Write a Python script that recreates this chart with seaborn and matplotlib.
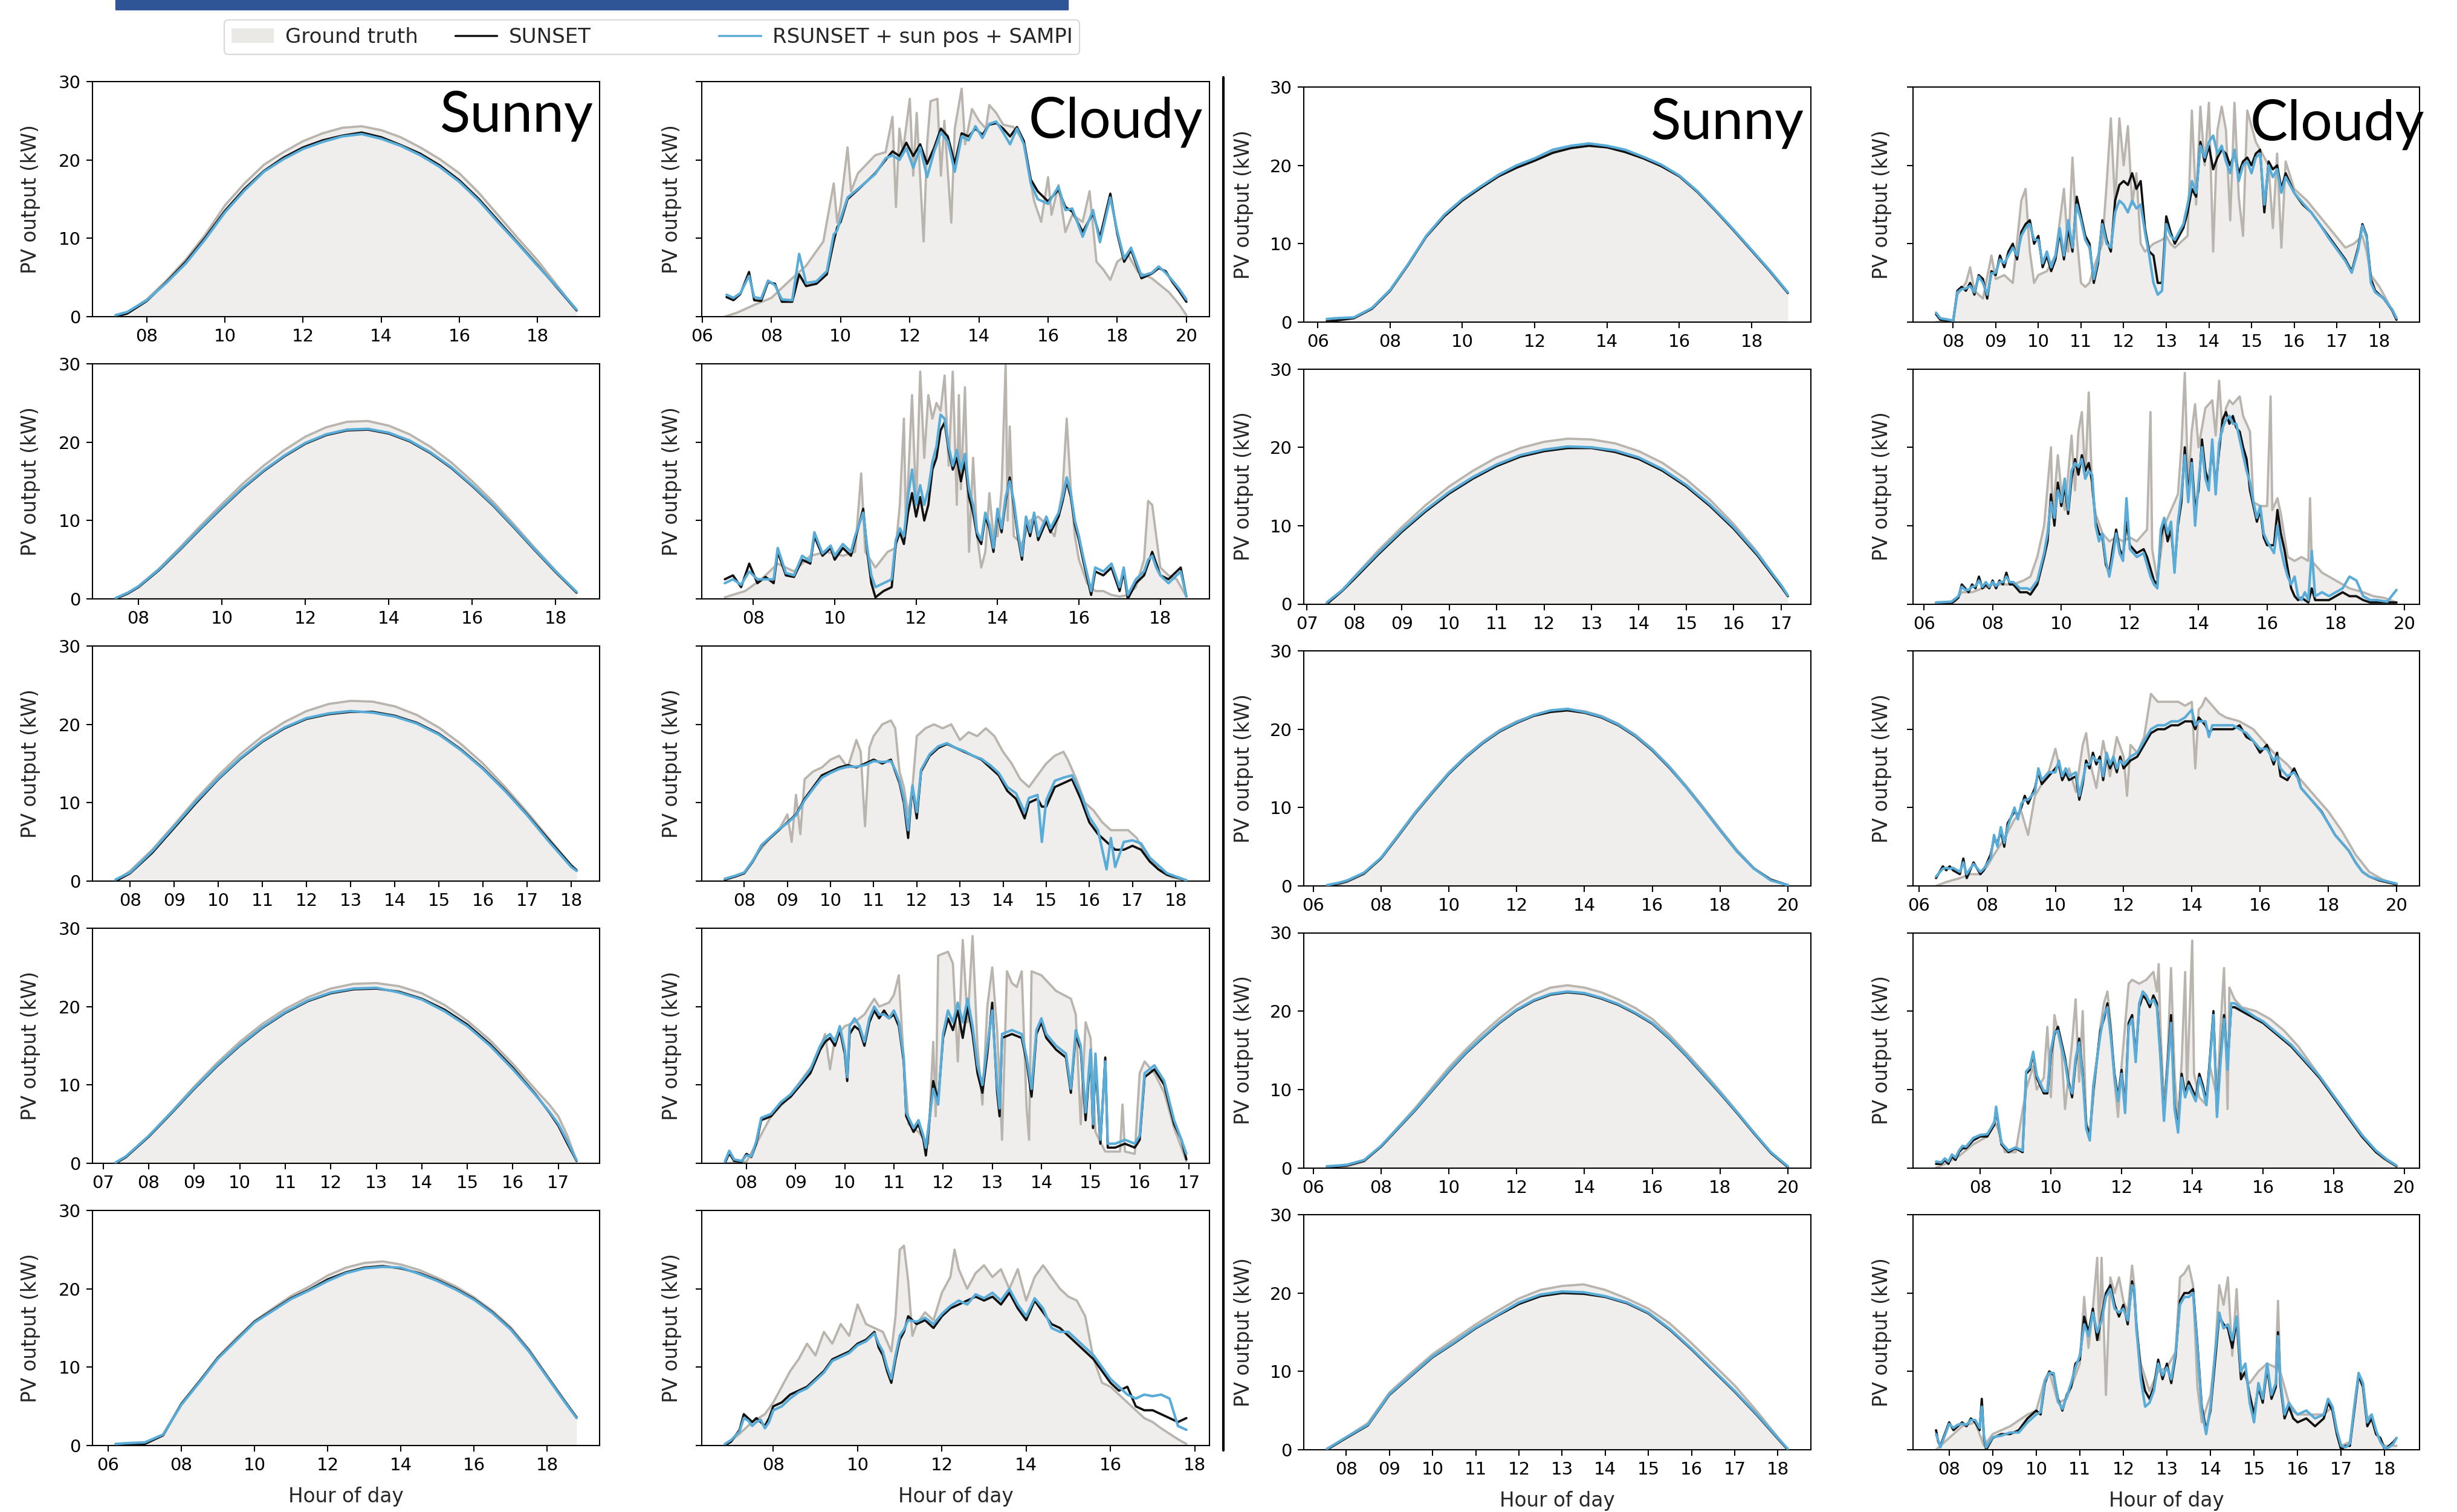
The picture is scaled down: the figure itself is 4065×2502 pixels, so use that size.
import numpy as np
import matplotlib
matplotlib.use("Agg")
import matplotlib.pyplot as plt
import seaborn as sns
from matplotlib.lines import Line2D
from matplotlib.patches import Patch, Rectangle
from matplotlib.ticker import MultipleLocator, FuncFormatter

# PV output (kW) per day, hours as fractional hour of day.
# Sunny days share one time axis for the three series.

# ---------------- left block, sunny ----------------
l1_hours = [7.2, 7.5, 8.0, 8.5, 9.0, 9.5, 10.0, 10.5, 11.0, 11.5, 12.0, 12.5, 13.0, 13.5, 14.0, 14.5, 15.0, 15.5, 16.0, 16.5, 17.0, 17.5, 18.0, 18.5, 19.0]
l1_truth = [0.0, 0.5, 2.2, 4.6, 7.3, 10.5, 14.2, 17.0, 19.4, 21.0, 22.4, 23.4, 24.1, 24.3, 23.8, 22.9, 21.6, 20.1, 18.3, 15.8, 12.9, 10.0, 7.2, 4.0, 0.8]
l1_sunset = [0.0, 0.4, 2.0, 4.4, 7.0, 10.1, 13.5, 16.3, 18.6, 20.3, 21.6, 22.5, 23.1, 23.5, 22.9, 21.9, 20.8, 19.3, 17.4, 15.0, 12.2, 9.4, 6.6, 3.7, 0.8]
l1_rsunset = [0.2, 0.6, 2.1, 4.3, 6.8, 9.9, 13.3, 16.1, 18.5, 20.1, 21.4, 22.3, 23.0, 23.3, 22.7, 21.8, 20.6, 19.1, 17.2, 14.8, 12.0, 9.3, 6.5, 3.8, 0.9]

l2_hours = [7.45, 7.75, 8.0, 8.5, 9.0, 9.5, 10.0, 10.5, 11.0, 11.5, 12.0, 12.5, 13.0, 13.5, 14.0, 14.5, 15.0, 15.5, 16.0, 16.5, 17.0, 17.5, 18.0, 18.5]
l2_truth = [0.0, 0.8, 1.6, 3.9, 6.6, 9.4, 12.1, 14.7, 17.0, 19.0, 20.7, 21.9, 22.6, 22.7, 22.1, 21.0, 19.4, 17.4, 15.0, 12.4, 9.5, 6.5, 3.6, 0.8]
l2_sunset = [0.0, 0.7, 1.5, 3.7, 6.3, 9.0, 11.6, 14.1, 16.3, 18.2, 19.8, 20.9, 21.5, 21.6, 21.1, 20.1, 18.6, 16.7, 14.4, 11.9, 9.1, 6.2, 3.4, 0.8]
l2_rsunset = [0.1, 0.8, 1.6, 3.8, 6.4, 9.1, 11.7, 14.2, 16.4, 18.3, 19.9, 21.0, 21.6, 21.7, 21.2, 20.2, 18.7, 16.8, 14.5, 12.0, 9.2, 6.3, 3.5, 0.9]

l3_hours = [7.67, 8.0, 8.5, 9.0, 9.5, 10.0, 10.5, 11.0, 11.5, 12.0, 12.5, 13.0, 13.5, 14.0, 14.5, 15.0, 15.5, 16.0, 16.5, 17.0, 17.5, 18.0, 18.12]
l3_truth = [0.0, 1.3, 4.0, 7.2, 10.5, 13.5, 16.2, 18.5, 20.3, 21.7, 22.6, 23.0, 22.9, 22.3, 21.2, 19.6, 17.5, 15.0, 12.0, 8.8, 5.4, 2.0, 1.4]
l3_sunset = [0.0, 1.0, 3.6, 6.8, 10.0, 13.0, 15.6, 17.8, 19.5, 20.7, 21.3, 21.6, 21.6, 21.1, 20.2, 18.8, 16.8, 14.4, 11.6, 8.5, 5.2, 2.0, 1.4]
l3_rsunset = [0.2, 1.1, 3.8, 7.0, 10.2, 13.1, 15.7, 17.9, 19.6, 20.8, 21.4, 21.7, 21.5, 21.0, 20.1, 18.7, 16.7, 14.3, 11.5, 8.4, 5.0, 1.8, 1.3]

l4_hours = [7.27, 7.5, 8.0, 8.5, 9.0, 9.5, 10.0, 10.5, 11.0, 11.5, 12.0, 12.5, 13.0, 13.5, 14.0, 14.5, 15.0, 15.5, 16.0, 16.5, 16.8, 17.0, 17.2, 17.4]
l4_truth = [0.0, 0.8, 3.5, 6.6, 9.8, 12.8, 15.5, 17.8, 19.7, 21.2, 22.3, 22.9, 23.0, 22.6, 21.7, 20.2, 18.2, 15.7, 12.7, 9.4, 7.5, 6.0, 3.5, 0.3]
l4_sunset = [0.0, 0.8, 3.4, 6.4, 9.5, 12.4, 15.0, 17.3, 19.2, 20.7, 21.7, 22.2, 22.3, 21.9, 21.0, 19.6, 17.7, 15.2, 12.2, 8.8, 6.5, 4.8, 2.5, 0.3]
l4_rsunset = [0.1, 0.9, 3.5, 6.5, 9.6, 12.5, 15.1, 17.4, 19.3, 20.8, 21.8, 22.3, 22.4, 21.8, 20.9, 19.4, 17.5, 15.0, 12.0, 8.7, 6.6, 5.0, 2.8, 0.4]

l5_hours = [6.2, 6.5, 7.0, 7.5, 8.0, 8.5, 9.0, 9.5, 10.0, 10.5, 11.0, 11.5, 12.0, 12.5, 13.0, 13.5, 14.0, 14.5, 15.0, 15.5, 16.0, 16.5, 17.0, 17.5, 18.0, 18.5, 18.8]
l5_truth = [0.2, 0.2, 0.3, 1.4, 5.4, 8.3, 11.3, 13.7, 15.9, 17.5, 19.1, 20.3, 21.7, 22.7, 23.3, 23.5, 23.1, 22.4, 21.4, 20.3, 18.9, 17.2, 15.1, 12.3, 8.9, 5.6, 3.6]
l5_sunset = [0.0, 0.1, 0.2, 1.3, 5.3, 8.2, 11.2, 13.5, 15.8, 17.3, 18.8, 19.9, 21.2, 22.1, 22.7, 22.9, 22.6, 22.0, 21.1, 20.0, 18.7, 17.0, 14.9, 12.1, 8.8, 5.5, 3.6]
l5_rsunset = [0.2, 0.3, 0.4, 1.4, 5.2, 8.1, 11.1, 13.4, 15.7, 17.2, 18.7, 19.8, 21.0, 22.0, 22.6, 22.8, 22.7, 21.9, 21.0, 19.9, 18.6, 16.9, 14.8, 12.0, 8.7, 5.4, 3.5]

# ---------------- left block, cloudy ----------------
cl1_truth_hours = [6.65, 7.0, 7.5, 8.0, 8.5, 9.0, 9.5, 9.8, 9.9, 10.0,
                   10.2, 10.3, 10.5, 11.0, 11.3, 11.5, 11.6, 11.7, 11.8, 12.0,
                   12.1, 12.2, 12.4, 12.5, 12.6, 12.8, 12.9, 13.0, 13.2, 13.3,
                   13.5, 13.6, 13.8, 14.0, 14.2, 14.3, 14.5, 14.7, 15.0, 15.3,
                   15.5, 15.6, 15.8, 16.0, 16.1, 16.3, 16.5, 16.7, 17.0, 17.2,
                   17.4, 17.6, 17.8, 18.0, 18.3, 18.6, 19.0, 19.5, 19.8, 20.0]
cl1_truth = [0.0, 0.5, 1.5, 2.4, 4.5, 6.5, 9.6, 17.0, 12.0, 14.2,
             21.6, 16.0, 18.3, 20.6, 21.0, 25.5, 14.0, 24.0, 21.0, 27.8,
             18.0, 26.0, 9.6, 22.0, 27.5, 27.8, 18.0, 25.0, 12.0, 24.0,
             29.1, 22.0, 26.5, 25.0, 24.0, 27.0, 26.0, 24.5, 24.2, 22.4,
             17.0, 14.7, 12.1, 17.8, 13.0, 16.8, 10.8, 13.0, 12.1, 16.0,
             7.0, 6.0, 4.7, 7.0, 8.0, 5.7, 4.9, 3.1, 1.5, 0.2]
cl1_hours = [6.7, 6.9, 7.1, 7.35, 7.5, 7.7, 7.9, 8.1, 8.3, 8.6,
             8.8, 9.0, 9.3, 9.6, 9.8, 9.9, 10.0, 10.2, 10.5, 11.0,
             11.3, 11.5, 11.7, 11.9, 12.1, 12.3, 12.5, 12.7, 12.9, 13.1,
             13.3, 13.5, 13.7, 13.9, 14.1, 14.3, 14.5, 14.7, 14.9, 15.1,
             15.3, 15.5, 15.7, 16.0, 16.3, 16.5, 16.7, 17.0, 17.3, 17.5,
             17.8, 18.0, 18.2, 18.4, 18.7, 19.0, 19.2, 19.4, 19.6, 19.8,
             20.0]
cl1_sunset = [2.5, 2.1, 2.9, 5.7, 2.1, 2.0, 4.4, 4.2, 1.9, 1.9,
              5.4, 3.9, 4.2, 5.4, 9.6, 11.4, 12.1, 15.0, 16.2, 18.3,
              20.0, 21.1, 20.5, 22.2, 20.5, 22.0, 19.5, 21.5, 24.0, 23.0,
              19.5, 23.4, 23.0, 24.0, 23.2, 24.5, 24.7, 24.0, 23.0, 24.2,
              22.4, 17.5, 16.0, 14.7, 16.2, 14.0, 13.4, 10.8, 13.2, 10.1,
              15.7, 10.6, 7.0, 8.5, 4.9, 5.5, 6.2, 5.8, 4.4, 3.2,
              1.9]
cl1_rsunset = [2.8, 2.4, 3.0, 5.2, 2.5, 2.3, 4.6, 4.0, 2.2, 2.1,
               8.0, 4.3, 4.5, 5.8, 10.5, 11.0, 12.5, 15.2, 16.3, 18.2,
               20.2, 20.6, 20.0, 21.5, 19.0, 21.6, 17.8, 21.0, 23.5, 22.4,
               18.5, 23.0, 22.5, 24.3, 22.8, 24.6, 24.9, 23.5, 22.0, 24.0,
               22.0, 17.0, 15.0, 14.4, 16.6, 13.6, 13.8, 10.2, 13.6, 9.5,
               15.2, 10.9, 7.4, 8.8, 5.2, 5.6, 6.4, 5.6, 4.6, 3.5,
               2.2]

cl2_truth_hours = [7.3, 7.8, 8.2, 8.6, 9.0, 9.4, 9.8, 10.2, 10.5, 10.65,
                   10.75, 11.0, 11.3, 11.5, 11.6, 11.7, 11.75, 11.9, 12.0, 12.1,
                   12.2, 12.3, 12.4, 12.5, 12.6, 12.7, 12.8, 12.9, 13.0, 13.05,
                   13.1, 13.2, 13.3, 13.4, 13.5, 13.6, 13.7, 13.8, 13.9, 14.0,
                   14.1, 14.2, 14.25, 14.3, 14.4, 14.6, 14.8, 15.0, 15.2, 15.4,
                   15.6, 15.7, 15.8, 15.9, 16.0, 16.2, 16.4, 16.6, 16.8, 17.0,
                   17.2, 17.4, 17.6, 17.7, 17.8, 17.9, 18.0, 18.2, 18.4, 18.64]
cl2_truth = [0.2, 1.0, 2.5, 4.5, 3.5, 5.5, 6.0, 5.5, 6.0, 16.0,
             6.0, 4.0, 6.0, 6.5, 12.0, 23.0, 9.0, 26.0, 12.0, 29.0,
             18.0, 26.0, 23.0, 25.0, 24.0, 28.5, 17.0, 29.0, 12.0, 26.0,
             14.0, 27.0, 6.0, 18.0, 8.0, 4.0, 6.0, 13.5, 8.0, 8.0,
             14.0, 30.0, 10.0, 22.0, 8.0, 7.0, 10.0, 10.5, 9.5, 8.0,
             14.0, 23.0, 14.0, 8.0, 5.0, 2.0, 1.0, 1.0, 0.5, 0.3,
             0.5, 1.5, 5.0, 12.5, 12.0, 8.0, 4.0, 3.0, 2.5, 0.3]
cl2_hours = [7.3, 7.5, 7.7, 7.9, 8.1, 8.3, 8.5, 8.6, 8.8, 9.0,
             9.2, 9.4, 9.5, 9.7, 9.9, 10.0, 10.2, 10.4, 10.5, 10.7,
             10.8, 10.9, 11.0, 11.2, 11.4, 11.5, 11.6, 11.7, 11.8, 11.9,
             12.0, 12.1, 12.2, 12.3, 12.4, 12.5, 12.6, 12.7, 12.8, 12.9,
             13.0, 13.1, 13.2, 13.3, 13.4, 13.5, 13.6, 13.7, 13.8, 13.9,
             14.0, 14.1, 14.2, 14.3, 14.4, 14.5, 14.6, 14.7, 14.8, 14.9,
             15.0, 15.2, 15.3, 15.5, 15.6, 15.7, 15.8, 15.9, 16.0, 16.1,
             16.3, 16.4, 16.6, 16.8, 17.0, 17.1, 17.2, 17.4, 17.6, 17.7,
             17.8, 17.9, 18.0, 18.2, 18.4, 18.5, 18.64]
cl2_sunset = [2.5, 3.0, 1.5, 4.5, 2.0, 2.8, 2.0, 6.0, 3.0, 2.8,
              5.0, 4.5, 8.0, 5.5, 6.5, 5.0, 6.5, 5.5, 7.5, 11.5,
              6.0, 2.0, 0.2, 1.0, 1.5, 7.0, 8.5, 7.0, 11.0, 13.5,
              10.5, 13.0, 10.0, 12.0, 16.5, 18.0, 21.5, 22.5, 19.0, 16.5,
              18.0, 15.0, 17.5, 13.0, 11.0, 8.0, 7.0, 10.5, 9.0, 6.0,
              11.0, 8.5, 12.5, 15.5, 12.0, 8.0, 5.0, 10.0, 8.0, 10.5,
              7.5, 10.0, 8.5, 10.5, 12.5, 15.0, 13.0, 9.5, 7.5, 5.0,
              0.5, 3.5, 3.0, 4.0, 1.0, 3.5, 0.0, 2.0, 3.0, 4.5,
              6.0, 4.5, 3.0, 2.5, 3.5, 4.0, 0.3]
cl2_rsunset = [2.0, 2.5, 1.8, 3.5, 2.5, 2.5, 2.5, 6.5, 3.3, 3.0,
               5.5, 4.8, 8.5, 5.8, 6.8, 5.5, 7.0, 6.0, 8.0, 11.0,
               6.5, 3.0, 1.5, 2.0, 2.5, 7.5, 9.0, 8.0, 13.0, 16.5,
               12.0, 14.5, 12.0, 14.0, 17.5, 19.5, 23.5, 23.0, 19.5, 17.0,
               19.0, 16.5, 18.5, 14.0, 12.0, 8.5, 7.5, 11.0, 9.5, 6.5,
               11.5, 9.0, 13.0, 15.0, 12.5, 8.5, 5.5, 10.5, 8.5, 11.0,
               8.0, 10.5, 9.0, 11.0, 13.0, 15.5, 13.5, 10.0, 8.0, 5.5,
               1.0, 4.0, 3.5, 4.5, 1.5, 4.0, 0.5, 2.5, 3.5, 5.0,
               5.5, 4.0, 3.0, 2.0, 3.0, 3.5, 0.3]

cl3_truth_hours = [7.55, 8.0, 8.3, 8.6, 8.8, 9.0, 9.1, 9.2, 9.3, 9.4,
                   9.6, 9.8, 10.0, 10.2, 10.4, 10.6, 10.7, 10.8, 10.9, 11.0,
                   11.2, 11.4, 11.5, 11.6, 11.7, 11.8, 11.9, 12.0, 12.2, 12.4,
                   12.6, 12.8, 13.0, 13.2, 13.4, 13.6, 13.8, 14.0, 14.2, 14.4,
                   14.6, 14.8, 15.0, 15.2, 15.4, 15.5, 15.7, 15.9, 16.1, 16.3,
                   16.5, 16.7, 16.9, 17.1, 17.3, 17.6, 17.9, 18.25]
cl3_truth = [0.1, 1.0, 3.5, 5.5, 6.5, 8.5, 5.0, 11.0, 6.0, 13.0,
             14.0, 14.5, 15.5, 16.0, 14.5, 18.0, 16.5, 7.0, 17.0, 18.5,
             20.0, 20.5, 19.5, 14.0, 12.0, 8.5, 12.0, 18.5, 19.5, 20.0,
             19.5, 20.0, 18.0, 19.0, 18.5, 19.5, 18.5, 16.5, 15.0, 13.0,
             12.0, 13.5, 15.0, 16.0, 16.5, 15.5, 13.0, 10.0, 9.0, 7.5,
             6.5, 6.5, 6.5, 5.5, 3.5, 1.5, 0.5, 0.1]
cl3_hours = [7.55, 7.8, 8.0, 8.2, 8.4, 8.6, 8.8, 9.0, 9.2, 9.4,
             9.6, 9.8, 10.0, 10.2, 10.4, 10.6, 10.8, 11.0, 11.2, 11.4,
             11.5, 11.6, 11.7, 11.8, 11.85, 11.9, 12.0, 12.1, 12.3, 12.5,
             12.7, 12.9, 13.1, 13.3, 13.5, 13.7, 13.9, 14.1, 14.3, 14.5,
             14.6, 14.8, 14.9, 15.0, 15.2, 15.4, 15.6, 15.8, 16.0, 16.2,
             16.4, 16.5, 16.6, 16.8, 17.0, 17.2, 17.4, 17.6, 17.8, 18.0,
             18.25]
cl3_sunset = [0.2, 0.6, 1.0, 2.5, 4.5, 5.5, 6.5, 7.5, 8.5, 10.5,
              12.0, 13.5, 14.0, 14.5, 14.8, 14.5, 15.0, 15.5, 15.0, 15.5,
              14.0, 12.5, 10.0, 5.5, 9.0, 12.0, 8.0, 14.0, 16.0, 17.0,
              17.5, 17.0, 16.5, 16.0, 15.5, 14.5, 13.5, 11.5, 10.5, 8.0,
              10.0, 10.5, 9.5, 9.5, 12.0, 12.5, 13.0, 10.5, 7.5, 6.0,
              5.0, 4.5, 4.0, 4.0, 4.5, 4.0, 2.5, 1.5, 0.8, 0.5,
              0.1]
cl3_rsunset = [0.3, 0.7, 1.1, 2.6, 4.6, 5.6, 6.6, 7.4, 8.4, 10.3,
               11.8, 13.2, 13.8, 14.3, 14.6, 14.6, 14.8, 15.3, 15.2, 15.3,
               14.2, 12.8, 10.5, 6.5, 9.5, 12.2, 8.8, 14.2, 16.2, 17.2,
               17.6, 17.0, 16.6, 16.0, 15.6, 14.8, 13.8, 12.0, 11.2, 8.8,
               10.6, 11.0, 5.0, 10.3, 12.8, 13.2, 13.5, 11.2, 8.2, 6.5,
               1.5, 5.5, 1.8, 5.0, 5.2, 4.8, 3.0, 2.0, 1.0, 0.6,
               0.1]

cl4_truth_hours = [7.56, 8.0, 8.2, 8.5, 8.8, 9.1, 9.4, 9.6, 9.7, 9.8,
                   10.0, 10.2, 10.4, 10.6, 10.7, 10.9, 11.0, 11.1, 11.2, 11.3,
                   11.5, 11.7, 11.8, 11.85, 11.9, 12.1, 12.2, 12.3, 12.4, 12.5,
                   12.6, 12.7, 12.8, 12.9, 13.0, 13.1, 13.2, 13.3, 13.4, 13.5,
                   13.6, 13.7, 13.75, 13.8, 14.0, 14.3, 14.6, 14.7, 14.8, 14.9,
                   15.0, 15.1, 15.3, 15.6, 15.65, 15.7, 15.9, 16.0, 16.1, 16.3,
                   16.5, 16.7, 16.95]
cl4_truth = [0.0, 0.2, 2.5, 6.0, 8.0, 10.5, 13.0, 16.5, 12.0, 16.0,
             17.5, 18.0, 19.0, 21.0, 20.0, 20.5, 21.5, 24.0, 13.0, 5.0,
             4.0, 2.5, 15.5, 6.0, 26.5, 27.0, 25.5, 13.0, 28.5, 18.0,
             29.0, 15.0, 7.5, 20.0, 25.0, 17.0, 3.0, 24.5, 23.0, 22.5,
             24.5, 7.0, 3.0, 24.5, 24.0, 22.0, 21.0, 19.0, 5.0, 18.0,
             16.0, 4.0, 1.5, 1.5, 7.5, 1.5, 1.2, 11.5, 13.0, 11.5,
             9.0, 4.5, 0.3]
cl4_hours = [7.56, 7.65, 7.75, 7.9, 8.0, 8.1, 8.2, 8.3, 8.5, 8.7,
             8.9, 9.1, 9.3, 9.5, 9.6, 9.7, 9.8, 9.9, 10.0, 10.05,
             10.1, 10.2, 10.3, 10.4, 10.5, 10.6, 10.7, 10.8, 10.9, 11.0,
             11.1, 11.2, 11.25, 11.4, 11.5, 11.6, 11.65, 11.7, 11.8, 11.9,
             12.0, 12.1, 12.2, 12.3, 12.4, 12.5, 12.6, 12.7, 12.8, 12.9,
             13.0, 13.1, 13.15, 13.2, 13.4, 13.6, 13.7, 13.8, 13.9, 14.0,
             14.1, 14.3, 14.5, 14.6, 14.7, 14.8, 14.9, 15.0, 15.05, 15.1,
             15.2, 15.3, 15.35, 15.5, 15.7, 15.9, 16.0, 16.1, 16.3, 16.5,
             16.7, 16.85, 16.95]
cl4_sunset = [0.0, 1.3, 0.3, 0.2, 1.2, 0.8, 2.5, 5.5, 6.0, 7.5,
              8.5, 10.0, 11.5, 14.5, 15.5, 16.0, 15.0, 17.0, 14.0, 10.5,
              16.5, 17.5, 17.0, 15.0, 18.0, 19.5, 18.5, 19.5, 18.5, 19.0,
              17.5, 13.0, 6.0, 4.0, 5.0, 3.0, 1.0, 4.0, 10.5, 8.0,
              16.0, 18.5, 17.0, 19.5, 16.0, 20.0, 16.5, 11.5, 9.0, 14.0,
              20.5, 9.0, 6.0, 16.0, 16.5, 16.0, 13.0, 8.5, 16.5, 18.0,
              16.0, 14.5, 13.5, 9.0, 16.5, 14.5, 5.5, 14.0, 4.5, 13.0,
              2.5, 13.5, 2.0, 2.0, 2.5, 2.0, 3.0, 11.0, 12.0, 10.0,
              5.0, 3.0, 0.5]
cl4_rsunset = [0.2, 1.6, 0.5, 0.3, 1.0, 0.9, 2.8, 5.8, 6.3, 7.8,
               8.8, 10.3, 12.0, 15.0, 16.0, 16.5, 15.5, 17.5, 14.5, 11.0,
               17.5, 18.5, 17.5, 15.5, 18.5, 20.0, 19.0, 19.0, 18.5, 19.5,
               18.0, 13.5, 6.5, 4.5, 5.5, 3.5, 2.0, 4.5, 9.5, 7.5,
               16.5, 19.5, 18.0, 20.5, 18.0, 21.0, 17.5, 12.5, 10.0, 15.0,
               19.5, 10.0, 7.0, 16.5, 17.0, 16.5, 13.5, 9.5, 17.0, 18.5,
               16.5, 15.0, 14.0, 9.5, 17.0, 15.0, 6.5, 14.5, 5.0, 14.0,
               3.0, 13.0, 2.5, 2.5, 3.0, 2.5, 3.5, 11.5, 12.5, 10.5,
               5.5, 3.0, 1.2]

cl5_truth_hours = [6.85, 7.2, 7.5, 7.8, 8.0, 8.2, 8.4, 8.6, 8.8, 9.0,
                   9.2, 9.4, 9.6, 9.8, 10.0, 10.2, 10.4, 10.6, 10.8, 10.9,
                   11.0, 11.1, 11.2, 11.3, 11.4, 11.6, 11.8, 12.0, 12.2, 12.3,
                   12.4, 12.6, 12.8, 13.0, 13.2, 13.4, 13.6, 13.8, 14.0, 14.2,
                   14.4, 14.6, 14.8, 15.0, 15.2, 15.4, 15.6, 15.8, 16.0, 16.2,
                   16.4, 16.6, 16.8, 17.0, 17.2, 17.4, 17.6, 17.8]
cl5_truth = [0.0, 1.5, 3.0, 4.0, 5.5, 7.5, 9.5, 11.0, 13.0, 11.5,
             14.5, 13.0, 15.5, 14.0, 18.0, 15.5, 15.0, 14.5, 12.0, 16.5,
             25.0, 25.5, 21.0, 14.0, 15.5, 17.0, 16.0, 19.5, 21.5, 25.0,
             22.5, 20.0, 22.0, 23.0, 21.5, 22.5, 20.0, 22.5, 18.5, 21.5,
             23.0, 21.5, 20.0, 19.0, 18.5, 16.5, 11.0, 8.0, 7.5, 6.5,
             5.5, 4.5, 3.5, 3.0, 2.2, 1.5, 0.8, 0.2]
cl5_hours = [6.85, 7.0, 7.2, 7.3, 7.4, 7.5, 7.6, 7.7, 7.8, 7.9,
             8.0, 8.2, 8.4, 8.6, 8.8, 9.0, 9.2, 9.4, 9.6, 9.8,
             10.0, 10.2, 10.4, 10.5, 10.6, 10.7, 10.8, 10.9, 11.0, 11.1,
             11.2, 11.4, 11.6, 11.8, 12.0, 12.2, 12.4, 12.6, 12.8, 13.0,
             13.2, 13.4, 13.6, 13.8, 14.0, 14.2, 14.4, 14.6, 14.8, 15.0,
             15.2, 15.4, 15.6, 15.8, 16.0, 16.2, 16.4, 16.6, 16.8, 17.0,
             17.2, 17.4, 17.6, 17.8]
cl5_sunset = [0.0, 0.5, 2.0, 4.0, 3.5, 3.0, 3.5, 3.0, 2.5, 3.5,
              5.0, 5.5, 6.5, 7.0, 7.5, 8.5, 9.5, 11.0, 11.5, 12.0,
              13.0, 13.5, 14.5, 12.5, 11.5, 9.5, 8.0, 11.0, 13.5, 14.5,
              16.5, 15.5, 16.0, 15.0, 16.5, 17.5, 18.0, 18.5, 19.0, 18.5,
              19.0, 18.0, 19.5, 17.5, 16.0, 18.5, 17.0, 15.5, 15.0, 14.0,
              13.0, 12.0, 11.0, 9.5, 8.0, 7.0, 7.5, 5.0, 4.5, 4.5,
              4.0, 3.5, 3.0, 3.5]
cl5_rsunset = [0.2, 0.7, 1.8, 3.5, 3.2, 2.5, 3.0, 3.3, 2.2, 3.0,
               4.5, 5.0, 6.0, 6.8, 7.3, 8.3, 9.3, 10.8, 11.3, 11.8,
               12.8, 13.3, 14.3, 13.0, 12.0, 10.0, 8.5, 11.5, 14.0, 14.8,
               16.0, 15.8, 16.3, 15.5, 16.8, 17.8, 18.5, 18.0, 19.3, 18.8,
               19.5, 18.5, 20.0, 18.0, 16.5, 18.8, 17.5, 15.0, 14.5, 14.5,
               13.5, 12.5, 11.5, 10.0, 8.5, 7.5, 6.5, 6.0, 6.5, 6.3,
               6.5, 6.0, 2.5, 2.0]

# ---------------- right block, sunny ----------------
r1_hours = [6.25, 6.5, 7.0, 7.5, 8.0, 8.5, 9.0, 9.5, 10.0, 10.5, 11.0, 11.5, 12.0, 12.5, 13.0, 13.5, 14.0, 14.5, 15.0, 15.5, 16.0, 16.5, 17.0, 17.5, 18.0, 18.5, 19.0]
r1_truth = [0.2, 0.3, 0.5, 1.8, 4.1, 7.4, 11.0, 13.6, 15.6, 17.2, 18.7, 19.9, 20.8, 21.8, 22.3, 22.6, 22.3, 21.9, 21.0, 20.0, 18.7, 16.7, 14.3, 11.8, 9.2, 6.6, 3.8]
r1_sunset = [0.1, 0.2, 0.5, 1.7, 4.0, 7.3, 10.9, 13.5, 15.5, 17.1, 18.6, 19.7, 20.6, 21.6, 22.2, 22.5, 22.3, 21.7, 20.9, 19.9, 18.6, 16.6, 14.2, 11.7, 9.1, 6.5, 3.7]
r1_rsunset = [0.4, 0.5, 0.6, 1.8, 4.1, 7.4, 11.0, 13.7, 15.7, 17.3, 18.8, 20.0, 20.9, 22.0, 22.5, 22.8, 22.5, 22.0, 21.1, 20.1, 18.7, 16.7, 14.3, 11.8, 9.2, 6.6, 3.8]

r2_hours = [7.42, 7.75, 8.0, 8.5, 9.0, 9.5, 10.0, 10.5, 11.0, 11.5, 12.0, 12.5, 13.0, 13.5, 14.0, 14.5, 15.0, 15.5, 16.0, 16.5, 17.0, 17.14]
r2_truth = [0.0, 1.8, 3.5, 6.8, 9.8, 12.6, 15.0, 17.0, 18.7, 19.9, 20.7, 21.1, 21.0, 20.5, 19.5, 18.0, 15.9, 13.3, 10.2, 6.6, 2.3, 1.0]
r2_sunset = [0.0, 1.7, 3.2, 6.3, 9.2, 11.8, 14.1, 16.0, 17.6, 18.8, 19.5, 19.9, 19.9, 19.4, 18.5, 17.0, 15.0, 12.5, 9.6, 6.2, 2.2, 1.0]
r2_rsunset = [0.2, 1.8, 3.4, 6.5, 9.4, 12.0, 14.3, 16.2, 17.8, 19.0, 19.7, 20.1, 20.0, 19.6, 18.7, 17.2, 15.2, 12.7, 9.8, 6.4, 2.4, 1.1]

r3_hours = [6.4, 6.75, 7.0, 7.5, 8.0, 8.5, 9.0, 9.5, 10.0, 10.5, 11.0, 11.5, 12.0, 12.5, 13.0, 13.5, 14.0, 14.5, 15.0, 15.5, 16.0, 16.5, 17.0, 17.5, 18.0, 18.5, 19.0, 19.5, 20.0]
r3_truth = [0.0, 0.2, 0.5, 1.5, 3.6, 6.5, 9.4, 12.0, 14.5, 16.6, 18.4, 19.9, 21.0, 21.8, 22.3, 22.5, 22.3, 21.7, 20.7, 19.3, 17.5, 15.3, 12.8, 10.1, 7.3, 4.6, 2.3, 0.8, 0.1]
r3_sunset = [0.0, 0.3, 0.6, 1.6, 3.5, 6.3, 9.2, 11.8, 14.3, 16.4, 18.2, 19.7, 20.8, 21.7, 22.2, 22.4, 22.1, 21.5, 20.5, 19.1, 17.3, 15.1, 12.6, 9.9, 7.1, 4.4, 2.2, 0.8, 0.1]
r3_rsunset = [0.1, 0.4, 0.7, 1.7, 3.6, 6.4, 9.3, 11.9, 14.4, 16.5, 18.3, 19.8, 20.9, 21.8, 22.4, 22.6, 22.2, 21.6, 20.6, 19.2, 17.4, 15.2, 12.6, 9.9, 7.1, 4.4, 2.2, 0.7, 0.1]

r4_hours = [6.4, 6.75, 7.0, 7.5, 8.0, 8.5, 9.0, 9.5, 10.0, 10.5, 11.0, 11.5, 12.0, 12.5, 13.0, 13.5, 14.0, 14.5, 15.0, 15.5, 16.0, 16.5, 17.0, 17.5, 18.0, 18.5, 19.0, 19.5, 20.0]
r4_truth = [0.0, 0.1, 0.2, 0.8, 2.8, 5.2, 7.6, 10.2, 12.8, 15.1, 17.2, 19.1, 20.8, 22.1, 23.0, 23.3, 23.0, 22.4, 21.5, 20.4, 19.0, 17.0, 14.7, 12.3, 9.8, 7.2, 4.5, 2.0, 0.1]
r4_sunset = [0.0, 0.2, 0.3, 0.9, 2.7, 5.0, 7.3, 9.8, 12.3, 14.6, 16.6, 18.5, 20.1, 21.3, 22.1, 22.4, 22.2, 21.6, 20.8, 19.7, 18.4, 16.5, 14.3, 11.9, 9.5, 7.0, 4.4, 1.9, 0.1]
r4_rsunset = [0.2, 0.3, 0.4, 1.0, 2.8, 5.1, 7.4, 9.9, 12.4, 14.7, 16.7, 18.6, 20.2, 21.4, 22.2, 22.5, 22.3, 21.7, 20.9, 19.8, 18.5, 16.6, 14.4, 12.0, 9.6, 7.1, 4.5, 2.0, 0.2]

r5_hours = [7.55, 8.0, 8.5, 9.0, 9.5, 10.0, 10.5, 11.0, 11.5, 12.0, 12.5, 13.0, 13.5, 14.0, 14.5, 15.0, 15.5, 16.0, 16.5, 17.0, 17.5, 18.0, 18.23]
r5_truth = [0.0, 1.6, 3.4, 7.3, 9.8, 12.2, 14.1, 16.0, 17.7, 19.3, 20.4, 20.9, 21.1, 20.4, 19.3, 18.0, 16.1, 13.6, 10.9, 8.2, 5.0, 1.6, 0.0]
r5_sunset = [0.0, 1.5, 3.1, 7.0, 9.4, 11.8, 13.6, 15.5, 17.1, 18.6, 19.6, 20.0, 19.9, 19.5, 18.7, 17.4, 15.3, 12.8, 10.1, 7.4, 4.5, 1.4, 0.0]
r5_rsunset = [0.1, 1.6, 3.2, 7.1, 9.5, 11.9, 13.7, 15.6, 17.2, 18.8, 19.8, 20.2, 20.1, 19.6, 18.8, 17.5, 15.4, 12.9, 10.2, 7.5, 4.6, 1.5, 0.1]

# ---------------- right block, cloudy ----------------
cr1_truth_hours = [7.6, 8.0, 8.1, 8.3, 8.4, 8.5, 8.7, 8.9, 9.0, 9.2,
                   9.4, 9.6, 9.7, 9.8, 9.9, 10.0, 10.2, 10.4, 10.6, 10.7,
                   10.8, 10.9, 11.0, 11.1, 11.2, 11.3, 11.5, 11.6, 11.7, 11.8,
                   11.9, 12.0, 12.1, 12.2, 12.3, 12.4, 12.5, 12.7, 12.9, 13.0,
                   13.1, 13.2, 13.4, 13.5, 13.6, 13.7, 13.8, 13.9, 14.0, 14.1,
                   14.2, 14.3, 14.4, 14.5, 14.6, 14.7, 14.8, 14.9, 15.0, 15.1,
                   15.2, 15.4, 15.5, 15.6, 15.7, 15.8, 16.0, 16.3, 16.6, 16.9,
                   17.2, 17.4, 17.6, 17.7, 17.8, 18.0, 18.2, 18.4]
cr1_truth = [0.0, 0.2, 3.5, 5.0, 7.0, 4.0, 3.0, 8.5, 5.5, 6.0,
             5.0, 15.5, 17.0, 9.0, 5.0, 6.0, 6.5, 8.5, 17.0, 9.0,
             21.0, 11.0, 5.0, 4.5, 5.0, 7.0, 10.0, 17.5, 26.0, 15.0,
             26.0, 20.0, 25.0, 15.0, 19.0, 10.0, 9.0, 10.0, 10.5, 11.0,
             10.0, 9.5, 10.5, 11.0, 27.0, 15.0, 27.5, 20.0, 28.0, 9.0,
             24.5, 27.5, 24.5, 13.0, 28.0, 16.0, 11.0, 27.0, 25.0, 23.0,
             22.0, 20.0, 12.0, 21.5, 9.5, 20.5, 17.0, 15.5, 13.5, 11.5,
             9.5, 10.0, 11.0, 9.0, 6.0, 4.5, 2.5, 0.3]
cr1_hours = [7.6, 7.7, 7.9, 8.0, 8.1, 8.2, 8.3, 8.4, 8.5, 8.6,
             8.7, 8.8, 8.9, 9.0, 9.1, 9.2, 9.3, 9.4, 9.5, 9.6,
             9.7, 9.8, 9.9, 10.0, 10.1, 10.2, 10.3, 10.4, 10.5, 10.6,
             10.7, 10.8, 10.9, 11.0, 11.1, 11.2, 11.3, 11.4, 11.5, 11.6,
             11.7, 11.8, 11.9, 12.0, 12.1, 12.2, 12.3, 12.4, 12.5, 12.6,
             12.7, 12.8, 12.9, 13.0, 13.1, 13.2, 13.4, 13.5, 13.6, 13.7,
             13.8, 13.9, 14.0, 14.1, 14.2, 14.3, 14.4, 14.5, 14.6, 14.7,
             14.8, 14.9, 15.0, 15.1, 15.2, 15.3, 15.4, 15.5, 15.6, 15.7,
             15.8, 16.0, 16.2, 16.4, 16.6, 16.8, 17.0, 17.2, 17.35, 17.5,
             17.6, 17.7, 17.8, 17.9, 18.1, 18.3, 18.4]
cr1_sunset = [1.0, 0.3, 0.2, 0.0, 4.0, 4.5, 4.0, 5.0, 3.5, 6.0,
              5.5, 3.0, 6.5, 6.0, 8.5, 7.0, 9.0, 10.0, 8.0, 11.5,
              12.5, 13.0, 10.0, 11.0, 7.0, 8.5, 6.5, 8.0, 11.5, 8.0,
              12.0, 9.0, 16.0, 13.5, 11.0, 10.0, 5.0, 7.5, 13.0, 10.5,
              9.0, 15.5, 17.5, 18.0, 17.5, 19.0, 17.0, 18.0, 12.0, 9.0,
              8.5, 5.0, 5.0, 13.5, 11.5, 10.0, 12.0, 14.0, 17.0, 16.0,
              23.0, 20.5, 22.5, 19.5, 21.0, 22.0, 21.5, 20.0, 21.5, 19.0,
              20.5, 21.0, 20.0, 21.5, 22.0, 14.0, 20.5, 19.5, 20.0, 17.0,
              19.0, 16.5, 15.0, 14.0, 12.5, 11.0, 9.5, 8.0, 6.5, 9.5,
              12.5, 11.0, 5.5, 4.0, 3.0, 1.5, 0.3]
cr1_rsunset = [1.2, 0.5, 0.3, 0.2, 3.8, 4.2, 4.3, 4.6, 3.8, 5.8,
               5.0, 3.5, 6.2, 6.3, 8.0, 7.5, 8.5, 9.5, 8.5, 11.0,
               12.0, 12.5, 10.5, 10.5, 7.5, 9.0, 7.0, 8.5, 12.0, 8.5,
               13.0, 9.5, 15.0, 13.0, 10.5, 9.5, 5.5, 8.0, 12.5, 10.0,
               9.5, 14.0, 15.5, 15.0, 14.0, 15.5, 14.5, 15.0, 11.5, 8.5,
               5.0, 3.5, 4.0, 12.5, 11.0, 10.5, 12.5, 15.0, 18.0, 16.5,
               22.5, 21.0, 23.0, 23.8, 21.5, 22.5, 20.5, 19.0, 22.0, 18.0,
               20.0, 20.5, 19.0, 21.0, 21.5, 15.0, 20.0, 18.5, 19.5, 16.5,
               18.5, 16.5, 15.2, 14.0, 12.5, 10.8, 9.3, 7.8, 6.3, 9.2,
               12.3, 10.8, 5.0, 3.8, 3.0, 1.6, 0.5]

cr2_truth_hours = [6.35, 6.9, 7.1, 7.4, 7.7, 8.0, 8.3, 8.6, 8.9, 9.1,
                   9.3, 9.5, 9.6, 9.7, 9.75, 9.9, 10.0, 10.1, 10.2, 10.3,
                   10.4, 10.5, 10.6, 10.7, 10.8, 10.9, 11.0, 11.2, 11.4, 11.6,
                   11.8, 12.0, 12.2, 12.4, 12.5, 12.6, 12.65, 12.8, 13.0, 13.2,
                   13.4, 13.5, 13.6, 13.7, 13.8, 13.9, 14.0, 14.2, 14.4, 14.5,
                   14.6, 14.7, 14.8, 14.9, 15.0, 15.2, 15.3, 15.5, 15.6, 15.8,
                   16.0, 16.1, 16.15, 16.3, 16.4, 16.6, 16.8, 17.0, 17.2, 17.25,
                   17.3, 17.6, 18.0, 18.4, 18.8, 19.1, 19.4, 19.77]
cr2_truth = [0.0, 0.3, 1.5, 1.5, 2.0, 2.5, 2.5, 2.5, 3.0, 3.5,
             6.0, 10.0, 15.0, 20.0, 11.0, 19.0, 14.5, 12.0, 16.5, 21.5,
             14.5, 22.0, 24.5, 16.0, 27.0, 14.5, 11.5, 9.0, 8.0, 8.5,
             8.0, 8.5, 8.0, 9.0, 9.5, 24.5, 7.0, 3.0, 10.0, 12.0,
             14.0, 20.0, 29.5, 15.0, 22.0, 25.5, 20.0, 25.0, 26.0, 21.5,
             28.5, 22.0, 25.0, 26.0, 25.5, 26.5, 24.0, 22.0, 13.0, 12.5,
             12.5, 26.5, 12.0, 13.5, 11.5, 6.0, 5.5, 6.0, 5.5, 13.5,
             5.5, 4.0, 3.0, 2.0, 1.5, 1.0, 0.8, 0.2]
cr2_hours = [6.35, 6.8, 7.0, 7.1, 7.2, 7.3, 7.4, 7.5, 7.6, 7.7,
             7.8, 7.9, 8.0, 8.1, 8.2, 8.3, 8.4, 8.5, 8.6, 8.8,
             9.0, 9.1, 9.3, 9.5, 9.6, 9.7, 9.8, 9.9, 10.0, 10.1,
             10.2, 10.3, 10.4, 10.5, 10.6, 10.7, 10.8, 10.9, 11.0, 11.1,
             11.2, 11.3, 11.4, 11.5, 11.6, 11.7, 11.8, 11.9, 12.0, 12.2,
             12.4, 12.5, 12.6, 12.7, 12.8, 12.9, 13.0, 13.1, 13.2, 13.3,
             13.4, 13.5, 13.6, 13.7, 13.8, 13.9, 14.0, 14.1, 14.2, 14.3,
             14.4, 14.5, 14.6, 14.7, 14.8, 14.9, 15.0, 15.1, 15.2, 15.3,
             15.4, 15.5, 15.6, 15.7, 15.8, 15.9, 16.0, 16.2, 16.3, 16.4,
             16.5, 16.6, 16.7, 16.8, 16.9, 17.0, 17.1, 17.2, 17.3, 17.4,
             17.6, 17.8, 18.0, 18.2, 18.4, 18.6, 18.8, 19.0, 19.2, 19.5,
             19.77]
cr2_sunset = [0.0, 0.1, 0.8, 2.5, 2.0, 1.5, 2.5, 2.0, 3.5, 2.0,
              2.5, 2.0, 3.0, 2.0, 3.0, 2.5, 4.0, 2.5, 2.5, 1.5,
              1.5, 1.2, 2.5, 6.0, 8.0, 14.0, 10.0, 15.5, 12.5, 15.0,
              11.5, 16.0, 18.5, 16.5, 19.0, 17.0, 18.0, 15.5, 10.5, 9.0,
              8.5, 5.0, 4.0, 7.0, 9.5, 7.0, 6.0, 10.5, 7.5, 6.5,
              7.0, 6.0, 4.5, 3.0, 2.5, 8.5, 10.5, 8.0, 9.5, 4.5,
              10.0, 13.0, 20.0, 14.0, 18.5, 12.0, 14.5, 21.0, 17.0, 15.5,
              20.0, 15.0, 19.5, 23.5, 24.5, 23.0, 24.0, 22.5, 22.0, 20.0,
              18.5, 14.5, 12.5, 10.5, 12.0, 8.5, 7.5, 7.5, 12.0, 9.0,
              7.0, 4.5, 2.0, 1.0, 0.5, 0.8, 0.5, 0.2, 2.0, 0.5,
              0.5, 0.5, 1.0, 1.5, 1.0, 1.0, 0.5, 0.2, 0.2, 0.2,
              0.2]
cr2_rsunset = [0.2, 0.3, 1.0, 2.2, 1.8, 1.8, 2.2, 2.3, 3.0, 2.2,
               2.8, 2.2, 2.8, 2.3, 2.8, 2.8, 3.5, 2.8, 2.8, 2.0,
               2.0, 1.8, 3.0, 6.5, 9.0, 13.0, 11.0, 14.5, 13.0, 16.0,
               12.0, 17.0, 18.0, 17.5, 18.5, 16.0, 17.0, 16.5, 10.0, 8.0,
               9.0, 5.5, 3.5, 6.0, 9.0, 6.5, 5.5, 13.5, 7.0, 6.0,
               6.5, 5.0, 3.5, 2.5, 2.0, 9.5, 11.0, 9.0, 10.5, 4.0,
               10.5, 14.0, 19.0, 13.0, 18.0, 10.0, 15.5, 20.0, 16.0, 14.5,
               21.0, 14.0, 20.5, 22.5, 23.5, 24.0, 23.0, 23.0, 21.0, 19.0,
               17.0, 15.5, 13.0, 11.0, 12.5, 9.0, 8.0, 6.5, 10.0, 7.0,
               5.0, 3.5, 2.5, 3.5, 1.0, 0.5, 1.5, 0.5, 6.8, 1.0,
               1.5, 1.0, 1.5, 2.0, 3.5, 3.0, 1.0, 0.5, 0.5, 0.3,
               1.8]

cr3_truth_hours = [6.5, 6.8, 7.2, 7.5, 7.8, 8.0, 8.2, 8.5, 8.8, 9.0,
                   9.2, 9.4, 9.6, 9.8, 10.0, 10.2, 10.4, 10.6, 10.8, 10.9,
                   11.0, 11.2, 11.4, 11.6, 11.8, 12.0, 12.1, 12.2, 12.4, 12.6,
                   12.8, 13.0, 13.3, 13.6, 13.8, 14.0, 14.1, 14.2, 14.3, 14.4,
                   14.6, 14.8, 15.0, 15.4, 15.8, 16.0, 16.4, 16.8, 17.2, 17.6,
                   18.0, 18.4, 18.8, 19.2, 19.6, 20.0]
cr3_truth = [0.0, 0.5, 1.0, 1.5, 1.5, 2.5, 4.0, 6.0, 8.5, 9.5,
             6.5, 11.5, 13.0, 14.5, 17.5, 13.5, 15.0, 12.0, 18.0, 19.5,
             16.0, 12.5, 18.5, 14.0, 19.0, 16.5, 11.5, 18.0, 17.0, 19.0,
             24.5, 23.5, 23.5, 23.5, 23.0, 23.5, 15.0, 22.5, 23.0, 24.0,
             23.0, 22.0, 21.5, 21.0, 20.0, 19.0, 17.0, 15.5, 13.5, 11.5,
             9.5, 7.0, 4.0, 1.8, 0.8, 0.2]
cr3_hours = [6.5, 6.7, 6.8, 6.9, 7.0, 7.2, 7.3, 7.4, 7.5, 7.6,
             7.8, 7.9, 8.1, 8.2, 8.3, 8.4, 8.5, 8.6, 8.8, 8.9,
             9.0, 9.1, 9.2, 9.4, 9.5, 9.6, 9.8, 10.0, 10.1, 10.2,
             10.3, 10.4, 10.6, 10.7, 10.8, 10.9, 11.0, 11.1, 11.2, 11.3,
             11.4, 11.5, 11.6, 11.7, 11.8, 11.9, 12.0, 12.2, 12.4, 12.6,
             12.8, 13.0, 13.2, 13.4, 13.6, 13.8, 14.0, 14.1, 14.2, 14.4,
             14.5, 14.6, 14.8, 15.0, 15.2, 15.4, 15.6, 15.8, 16.0, 16.2,
             16.4, 16.5, 16.6, 16.8, 17.0, 17.1, 17.2, 17.4, 17.6, 17.8,
             18.0, 18.2, 18.4, 18.6, 18.8, 19.0, 19.2, 19.5, 19.8, 20.0]
cr3_sunset = [1.0, 2.5, 2.0, 2.5, 2.0, 1.5, 3.5, 1.0, 2.0, 3.0,
              1.5, 2.0, 4.0, 6.0, 5.5, 7.0, 5.0, 8.0, 9.5, 9.0,
              10.0, 11.5, 10.5, 12.5, 14.5, 13.0, 14.0, 15.0, 15.5, 13.5,
              14.5, 13.5, 14.0, 11.0, 13.0, 16.0, 15.0, 17.0, 15.5, 16.5,
              13.5, 16.5, 15.0, 16.0, 14.5, 16.5, 15.0, 16.0, 16.5, 18.0,
              19.5, 20.0, 20.0, 20.5, 20.5, 21.0, 21.0, 20.0, 21.5, 20.5,
              19.5, 20.0, 20.0, 20.0, 20.0, 20.5, 19.0, 18.5, 17.0, 18.0,
              15.5, 17.0, 14.0, 13.5, 15.0, 14.0, 12.5, 11.5, 10.5, 9.5,
              8.0, 6.5, 5.5, 4.5, 3.0, 1.8, 1.2, 0.7, 0.4, 0.2]
cr3_rsunset = [1.2, 2.2, 2.3, 2.2, 2.3, 1.8, 3.0, 1.5, 2.2, 2.8,
               1.8, 2.2, 3.5, 6.5, 5.0, 7.5, 5.5, 7.5, 10.0, 8.5,
               10.5, 11.0, 11.0, 12.0, 15.0, 13.5, 14.5, 14.5, 16.0, 14.0,
               15.0, 14.0, 14.5, 11.5, 13.5, 15.5, 15.5, 16.5, 16.0, 16.0,
               14.0, 17.0, 15.5, 16.5, 15.0, 16.0, 15.5, 16.5, 17.0, 18.5,
               20.0, 20.5, 20.5, 21.0, 21.0, 21.5, 22.5, 20.5, 21.0, 21.0,
               19.0, 20.5, 20.5, 20.5, 20.5, 20.0, 19.5, 18.5, 17.5, 17.5,
               16.0, 16.5, 15.0, 14.0, 14.5, 13.8, 12.5, 11.5, 10.5, 9.4,
               8.0, 6.5, 5.5, 4.5, 3.0, 1.8, 1.2, 0.8, 0.5, 0.3]

cr4_truth_hours = [6.75, 7.0, 7.4, 7.8, 8.2, 8.4, 8.5, 8.7, 9.0, 9.3,
                   9.5, 9.6, 9.8, 9.9, 10.0, 10.1, 10.3, 10.4, 10.6, 10.7,
                   10.8, 10.9, 11.0, 11.1, 11.2, 11.4, 11.5, 11.6, 11.7, 11.8,
                   11.9, 12.0, 12.2, 12.3, 12.5, 12.7, 12.9, 13.0, 13.05, 13.1,
                   13.2, 13.3, 13.4, 13.5, 13.6, 13.7, 13.8, 13.85, 14.0, 14.05,
                   14.2, 14.4, 14.5, 14.7, 14.8, 14.9, 15.0, 15.05, 15.2, 15.4,
                   15.8, 16.2, 16.6, 17.0, 17.4, 17.8, 18.2, 18.6, 19.0, 19.4,
                   19.78]
cr4_truth = [0.0, 0.5, 1.5, 3.0, 4.0, 6.0, 5.0, 2.0, 2.0, 10.0,
             13.0, 10.0, 11.5, 18.0, 9.0, 19.5, 15.0, 7.5, 16.0, 21.5,
             11.0, 20.0, 6.0, 4.0, 9.0, 18.0, 21.0, 22.5, 18.0, 11.0,
             6.5, 13.0, 23.5, 24.0, 23.5, 24.0, 25.0, 22.5, 26.0, 18.0,
             8.0, 14.0, 25.5, 12.0, 6.0, 13.5, 25.0, 10.0, 29.0, 12.0,
             9.0, 8.0, 13.0, 9.0, 18.0, 25.5, 7.5, 23.0, 21.5, 20.5,
             20.0, 19.0, 17.5, 15.5, 13.0, 10.5, 8.0, 5.5, 3.0, 1.2,
             0.2]
cr4_hours = [6.75, 6.9, 7.0, 7.1, 7.2, 7.3, 7.4, 7.5, 7.6, 7.8,
             8.0, 8.2, 8.4, 8.45, 8.5, 8.6, 8.7, 8.8, 9.0, 9.2,
             9.3, 9.4, 9.5, 9.6, 9.8, 9.9, 10.0, 10.1, 10.2, 10.3,
             10.4, 10.5, 10.6, 10.7, 10.8, 10.9, 11.0, 11.1, 11.2, 11.4,
             11.5, 11.6, 11.7, 11.8, 11.9, 12.0, 12.1, 12.2, 12.3, 12.4,
             12.5, 12.6, 12.7, 12.8, 12.9, 13.0, 13.1, 13.2, 13.3, 13.4,
             13.5, 13.6, 13.7, 13.8, 13.9, 14.0, 14.1, 14.2, 14.3, 14.4,
             14.5, 14.6, 14.7, 14.8, 14.9, 15.0, 15.1, 15.2, 15.4, 15.6,
             15.8, 16.0, 16.4, 16.8, 17.2, 17.6, 18.0, 18.4, 18.8, 19.2,
             19.5, 19.78]
cr4_sunset = [0.5, 0.5, 1.0, 0.5, 1.5, 1.0, 2.0, 2.5, 2.5, 3.5,
              4.0, 4.0, 5.5, 7.5, 6.0, 3.0, 2.5, 2.0, 2.5, 2.0,
              12.0, 12.5, 14.5, 11.5, 9.5, 9.5, 14.5, 17.0, 18.0, 16.0,
              14.0, 11.0, 9.0, 13.5, 16.5, 12.0, 5.5, 4.0, 10.0, 17.5,
              19.0, 21.0, 17.0, 12.0, 9.0, 12.5, 7.5, 18.5, 19.5, 14.0,
              20.5, 22.0, 21.5, 20.5, 22.0, 21.0, 14.5, 6.5, 13.0, 19.5,
              8.0, 5.0, 12.0, 9.5, 11.0, 10.0, 9.0, 12.0, 10.5, 8.5,
              14.0, 20.0, 7.0, 14.0, 19.5, 13.0, 20.5, 20.5, 20.0, 19.5,
              19.0, 18.5, 17.0, 15.5, 13.5, 11.5, 9.0, 6.5, 4.0, 2.0,
              1.0, 0.2]
cr4_rsunset = [0.8, 0.7, 1.2, 0.8, 1.7, 1.3, 2.2, 2.8, 2.7, 3.8,
               4.2, 4.3, 5.8, 7.8, 6.2, 3.2, 2.7, 2.2, 2.6, 2.2,
               12.3, 12.8, 14.8, 11.8, 9.8, 9.8, 15.0, 17.3, 17.5, 15.5,
               13.5, 10.5, 9.5, 14.0, 16.0, 11.5, 5.0, 3.5, 10.5, 17.0,
               19.5, 20.5, 16.5, 11.5, 8.5, 12.0, 7.0, 18.0, 19.0, 13.5,
               21.0, 22.5, 22.0, 21.0, 21.5, 20.5, 14.0, 6.0, 12.5, 18.5,
               7.5, 4.5, 11.5, 9.0, 10.5, 9.5, 8.5, 11.5, 10.0, 8.0,
               13.5, 19.5, 6.5, 13.5, 19.0, 12.5, 21.0, 21.0, 20.3, 19.8,
               19.2, 18.7, 17.2, 15.7, 13.7, 11.7, 9.2, 6.7, 4.2, 2.2,
               1.1, 0.3]

cr5_truth_hours = [7.7, 8.0, 8.3, 8.6, 8.8, 9.0, 9.4, 9.8, 10.0, 10.2,
                   10.3, 10.5, 10.7, 10.9, 11.0, 11.1, 11.2, 11.3, 11.4, 11.45,
                   11.5, 11.6, 11.7, 11.8, 11.9, 12.0, 12.1, 12.2, 12.25, 12.3,
                   12.4, 12.6, 12.8, 13.0, 13.2, 13.3, 13.4, 13.5, 13.6, 13.7,
                   13.8, 14.0, 14.1, 14.2, 14.3, 14.4, 14.5, 14.6, 14.7, 14.9,
                   15.1, 15.3, 15.5, 15.55, 15.6, 15.8, 16.0, 16.3, 16.6, 16.8,
                   16.9, 17.0, 17.2, 17.3, 17.4, 17.5, 17.6, 17.7, 17.8, 18.0,
                   18.27]
cr5_truth = [0.0, 1.5, 3.0, 3.5, 0.5, 2.0, 3.0, 4.5, 5.0, 9.0,
             10.0, 6.0, 6.5, 9.5, 11.0, 19.5, 13.0, 18.0, 24.5, 14.0,
             24.5, 7.0, 22.0, 20.0, 22.0, 19.0, 17.5, 23.5, 21.0, 15.0,
             11.0, 7.5, 10.0, 10.5, 12.5, 22.0, 22.5, 23.5, 21.0, 8.0,
             3.5, 7.0, 12.0, 21.0, 18.5, 22.0, 12.0, 20.5, 10.0, 8.5,
             10.0, 11.0, 10.5, 19.0, 10.0, 6.0, 4.5, 4.5, 4.5, 5.5,
             2.5, 0.5, 1.0, 5.0, 9.5, 8.5, 4.0, 4.5, 2.0, 0.5,
             0.5]
cr5_hours = [7.7, 7.75, 7.8, 7.9, 8.0, 8.1, 8.2, 8.3, 8.4, 8.5,
             8.6, 8.7, 8.75, 8.8, 8.85, 9.0, 9.2, 9.4, 9.6, 9.8,
             10.0, 10.1, 10.2, 10.3, 10.4, 10.5, 10.6, 10.7, 10.8, 10.9,
             11.0, 11.1, 11.2, 11.3, 11.4, 11.5, 11.6, 11.7, 11.8, 11.9,
             12.0, 12.1, 12.2, 12.25, 12.3, 12.4, 12.5, 12.6, 12.7, 12.8,
             12.9, 13.0, 13.1, 13.2, 13.3, 13.4, 13.5, 13.6, 13.7, 13.8,
             13.9, 14.0, 14.1, 14.2, 14.3, 14.4, 14.5, 14.6, 14.7, 14.8,
             14.9, 15.0, 15.1, 15.2, 15.3, 15.4, 15.5, 15.55, 15.6, 15.7,
             15.8, 15.9, 16.0, 16.2, 16.4, 16.6, 16.7, 16.8, 16.9, 17.0,
             17.1, 17.2, 17.3, 17.4, 17.5, 17.6, 17.7, 17.8, 17.9, 18.0,
             18.1, 18.2, 18.27]
cr5_sunset = [2.5, 1.0, 0.5, 2.0, 3.5, 2.5, 3.0, 3.5, 3.0, 4.0,
              3.5, 2.5, 6.5, 1.5, 0.0, 1.5, 2.0, 2.0, 2.5, 4.0,
              5.0, 4.5, 8.5, 10.0, 9.5, 6.5, 5.0, 7.0, 8.0, 11.0,
              11.5, 17.0, 15.0, 18.0, 14.0, 17.0, 20.0, 21.0, 18.5, 17.0,
              18.5, 16.0, 21.5, 20.0, 16.0, 10.0, 7.5, 6.5, 8.0, 11.5,
              9.0, 11.0, 8.5, 12.0, 19.0, 20.0, 20.0, 20.5, 13.5, 5.5,
              2.5, 5.0, 11.0, 17.0, 16.0, 15.5, 13.0, 16.5, 9.0, 10.0,
              7.0, 4.5, 8.0, 6.0, 10.5, 6.5, 8.0, 15.0, 8.5, 4.0,
              5.5, 4.0, 3.5, 4.0, 3.0, 4.0, 6.0, 5.0, 2.0, 0.0,
              0.5, 0.5, 5.0, 9.5, 8.0, 3.0, 4.0, 2.0, 1.5, 0.0,
              0.5, 1.0, 1.5]
cr5_rsunset = [2.0, 1.2, 0.3, 1.8, 3.3, 2.8, 3.2, 3.3, 3.2, 3.8,
               3.8, 2.8, 5.5, 1.8, 0.3, 1.6, 1.8, 2.2, 2.2, 3.5,
               4.5, 4.8, 8.8, 9.8, 9.8, 6.2, 5.2, 6.8, 8.5, 10.5,
               12.0, 16.0, 14.5, 17.5, 15.0, 16.5, 19.5, 20.5, 18.0, 17.5,
               18.0, 16.5, 21.0, 20.5, 15.5, 9.0, 5.5, 6.0, 7.5, 11.0,
               9.5, 10.5, 9.0, 12.5, 18.5, 19.5, 19.5, 20.0, 13.0, 5.0,
               2.0, 5.5, 12.0, 17.5, 15.5, 16.0, 14.0, 17.0, 10.0, 11.0,
               6.0, 3.5, 8.5, 6.5, 11.0, 7.0, 8.5, 14.5, 9.0, 4.5,
               6.0, 5.0, 4.5, 5.0, 4.0, 4.5, 6.5, 5.5, 2.5, 0.5,
               0.3, 0.8, 5.5, 9.8, 8.5, 3.5, 4.5, 2.5, 1.0, 0.2,
               0.3, 0.8, 1.5]

# one entry per column, rows top to bottom:
# (truth hours, truth, model hours, SUNSET, RSUNSET, hour tick step)
columns = [
    [(l1_hours, l1_truth, l1_hours, l1_sunset, l1_rsunset, 2),
     (l2_hours, l2_truth, l2_hours, l2_sunset, l2_rsunset, 2),
     (l3_hours, l3_truth, l3_hours, l3_sunset, l3_rsunset, 1),
     (l4_hours, l4_truth, l4_hours, l4_sunset, l4_rsunset, 1),
     (l5_hours, l5_truth, l5_hours, l5_sunset, l5_rsunset, 2)],
    [(cl1_truth_hours, cl1_truth, cl1_hours, cl1_sunset, cl1_rsunset, 2),
     (cl2_truth_hours, cl2_truth, cl2_hours, cl2_sunset, cl2_rsunset, 2),
     (cl3_truth_hours, cl3_truth, cl3_hours, cl3_sunset, cl3_rsunset, 1),
     (cl4_truth_hours, cl4_truth, cl4_hours, cl4_sunset, cl4_rsunset, 1),
     (cl5_truth_hours, cl5_truth, cl5_hours, cl5_sunset, cl5_rsunset, 2)],
    [(r1_hours, r1_truth, r1_hours, r1_sunset, r1_rsunset, 2),
     (r2_hours, r2_truth, r2_hours, r2_sunset, r2_rsunset, 1),
     (r3_hours, r3_truth, r3_hours, r3_sunset, r3_rsunset, 2),
     (r4_hours, r4_truth, r4_hours, r4_sunset, r4_rsunset, 2),
     (r5_hours, r5_truth, r5_hours, r5_sunset, r5_rsunset, 1)],
    [(cr1_truth_hours, cr1_truth, cr1_hours, cr1_sunset, cr1_rsunset, 1),
     (cr2_truth_hours, cr2_truth, cr2_hours, cr2_sunset, cr2_rsunset, 2),
     (cr3_truth_hours, cr3_truth, cr3_hours, cr3_sunset, cr3_rsunset, 2),
     (cr4_truth_hours, cr4_truth, cr4_hours, cr4_sunset, cr4_rsunset, 2),
     (cr5_truth_hours, cr5_truth, cr5_hours, cr5_sunset, cr5_rsunset, 1)],
]
column_titles = ["Sunny", "Cloudy", "Sunny", "Cloudy"]
legend_labels = ["Ground truth", "SUNSET", "RSUNSET + sun pos + SAMPI"]

FILL = "#efeeec"
GREY = "#b9b4ad"
BLACK = "#111111"
BLUE = "#5aacd8"

sns.set_style("ticks")
plt.rcParams["font.family"] = ["DejaVu Sans"]
plt.rcParams["axes.edgecolor"] = "black"
plt.rcParams["xtick.color"] = "black"
plt.rcParams["ytick.color"] = "black"

W, H = 4065, 2502
fig = plt.figure(figsize=(W / 100, H / 100), dpi=100)


def axes_px(left, top, right, bottom):
    return fig.add_axes([left / W, 1 - bottom / H, (right - left) / W, (bottom - top) / H])


col_x = [(153, 992), (1161, 2001), (2157, 2996), (3165, 4003)]
row_top = [lambda i: 135 + 467 * i, lambda i: 135 + 467 * i,
           lambda i: 144 + 466.5 * i, lambda i: 144 + 466.5 * i]
ylabel_x = [-0.1025, -0.039, -0.099, -0.042]
hour_fmt = FuncFormatter(lambda v, p: f"{int(round(v)):02d}")

for c, col in enumerate(columns):
    x0, x1 = col_x[c]
    for r, (th, truth, mh, sunset, rsunset, step) in enumerate(col):
        top = row_top[c](r)
        ax = axes_px(x0, top, x1, top + 389)
        ax.fill_between(th, truth, 0, color=FILL, lw=0, zorder=1)
        sns.lineplot(x=th, y=truth, ax=ax, color=GREY, lw=2.7, estimator=None, sort=False, zorder=2)
        sns.lineplot(x=mh, y=sunset, ax=ax, color=BLACK, lw=2.7, estimator=None, sort=False, zorder=3)
        sns.lineplot(x=mh, y=rsunset, ax=ax, color=BLUE, lw=3.0, estimator=None, sort=False, zorder=4)
        ax.set_ylim(0, 30)
        ax.set_yticks([0, 10, 20, 30])
        ax.xaxis.set_major_locator(MultipleLocator(step))
        ax.xaxis.set_major_formatter(hour_fmt)
        ax.tick_params(length=7, width=1.5, labelsize=21, pad=7)
        if c in (1, 3):
            ax.tick_params(labelleft=False)
        for s in ax.spines.values():
            s.set_linewidth(1.5)
        ax.set_ylabel("PV output (kW)", fontsize=23.5)
        ax.yaxis.set_label_coords(ylabel_x[c], 0.5)
        if r == 4:
            ax.set_xlabel("Hour of day", fontsize=23.5)
            ax.xaxis.set_label_coords(0.5, -0.175)
        else:
            ax.set_xlabel("")

# day-type titles on the first row
title_pos = [(982, 217), (1990, 228), (2985, 230), (4011, 232)]
for (tx, ty), t in zip(title_pos, column_titles):
    fig.text(tx / W, 1 - ty / H, t, ha="right", va="baseline",
             fontsize=67, family=["Lato", "DejaVu Sans"], color="black")

# separator between the two blocks and the blue banner at the top
fig.add_artist(Line2D([2024 / W, 2024 / W], [1 - 128 / H, 1 - 2400 / H],
                      color="black", lw=3, transform=fig.transFigure))
fig.add_artist(Rectangle((191 / W, 1 - 16 / H), (1767 - 191) / W, 16 / H,
                         color="#2f5597", transform=fig.transFigure))

handles = [Patch(facecolor="#ebe9e6", edgecolor="none"),
           Line2D([], [], color=BLACK, lw=2.5),
           Line2D([], [], color="none"),
           Line2D([], [], color=BLUE, lw=2.5)]
labels = [legend_labels[0], legend_labels[1], "", legend_labels[2]]
leg = fig.legend(handles, labels, loc="upper left", bbox_to_anchor=(371 / W, 1 - 33 / H),
                 ncol=4, fontsize=24.5, frameon=True, fancybox=True,
                 handlelength=2.05, handletextpad=0.56, columnspacing=1.8,
                 borderpad=0.35, borderaxespad=0)
leg.get_frame().set_edgecolor("#cfcfcf")
leg.get_frame().set_linewidth(1.5)

fig.savefig("out.png", dpi=100)
